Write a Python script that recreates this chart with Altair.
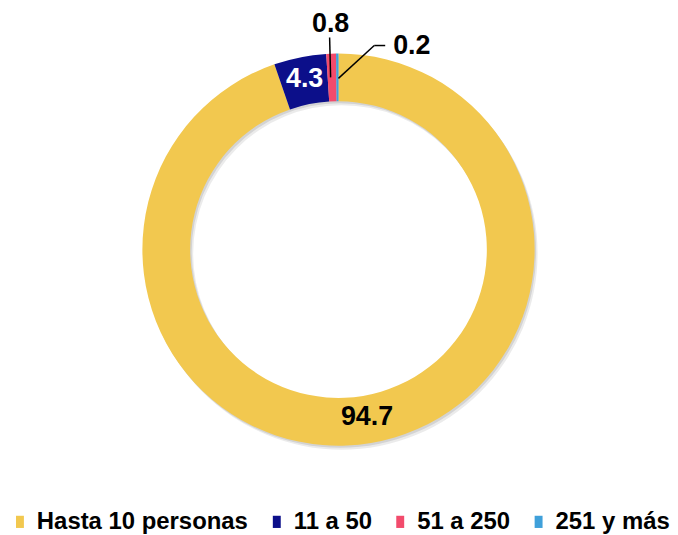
import altair as alt
import pandas as pd
import numpy as np

categories = ["Hasta 10 personas", "11 a 50", "51 a 250", "251 y más"]
values = [94.7, 4.3, 0.8, 0.2]
labels = ["94.7", "4.3", "0.8", "0.2"]
colors = ["#F2C84F", "#0C0F8A", "#F24B6C", "#3FA0DA"]

W, H = 664, 471
R_OUT, R_IN = 197, 149
R_MID = (R_OUT + R_IN) / 2

df = pd.DataFrame({"cat": categories, "value": values, "label": labels,
                   "idx": list(range(len(categories)))})
total = df["value"].sum()
df["start"] = df["value"].cumsum() - df["value"]
df["mid"] = (df["start"] + df["value"] / 2) / total * 2 * np.pi
df["mx"] = R_MID * np.sin(df["mid"])
df["my"] = R_MID * np.cos(df["mid"])

# label placement (annotation layout)
lab_rows = []
seg_rows = []
for _, r in df.iterrows():
    if r["value"] >= 2:
        lab_rows.append(dict(label=r["label"], x=r["mx"], y=r["my"] + 2, col="white" if r["idx"] == 1 else "black", align="center"))
    elif r["idx"] == 2:
        x0 = R_OUT * np.sin(r["mid"]) - 0.5
        lab_rows.append(dict(label=r["label"], x=x0, y=R_OUT + 30, col="black", align="center"))
        seg_rows.append(dict(x=x0, y=R_MID, x2=x0 - 1, y2=R_OUT + 16))
    else:
        x0 = r["mx"]
        lab_rows.append(dict(label=r["label"], x=x0 + 56, y=R_OUT + 7, col="black", align="left"))
        seg_rows.append(dict(x=x0 + 1, y=R_MID - 1, x2=x0 + 37, y2=R_OUT + 8))
        seg_rows.append(dict(x=x0 + 37, y=R_OUT + 8, x2=x0 + 48, y2=R_OUT + 8))
labs = pd.DataFrame(lab_rows)
segs = pd.DataFrame(seg_rows)

xs = alt.Scale(domain=[-W / 2, W / 2], range=[0, W])
ys = alt.Scale(domain=[-H / 2, H / 2])

ring_df = pd.DataFrame({"v": [1]})
shadow1 = alt.Chart(ring_df).mark_arc(innerRadius=R_IN, outerRadius=R_OUT, color="#000000",
                                      opacity=0.08, xOffset=3, yOffset=4).encode(theta=alt.Theta("v:Q"))
shadow2 = alt.Chart(ring_df).mark_arc(innerRadius=R_IN, outerRadius=R_OUT, color="#000000",
                                      opacity=0.1, xOffset=1.5, yOffset=2).encode(theta=alt.Theta("v:Q"))

arcs = alt.Chart(df).mark_arc(innerRadius=R_IN, outerRadius=R_OUT).encode(
    theta=alt.Theta("value:Q", stack=True),
    order=alt.Order("idx:Q"),
    color=alt.Color("cat:N", scale=alt.Scale(domain=categories, range=colors),
                    sort=categories,
                    legend=alt.Legend(title=None, orient="none", direction="horizontal",
                                      legendX=0, legendY=497, padding=0,
                                      symbolType="M-0.65,-1H0.65V1H-0.65Z",
                                      symbolSize=150, symbolStrokeWidth=0,
                                      labelFont="Liberation Sans", labelFontWeight="bold",
                                      labelFontSize=24, labelColor="#000000",
                                      labelOffset=5, columnPadding=16, labelLimit=400)),
)

rules = alt.Chart(segs).mark_rule(color="#000000", strokeWidth=1.5).encode(
    x=alt.X("x:Q", scale=xs, axis=None), y=alt.Y("y:Q", scale=ys, axis=None),
    x2="x2:Q", y2="y2:Q")


def text_layer(align):
    return alt.Chart(labs).transform_filter(alt.datum.align == align).mark_text(
        font="Liberation Sans", fontWeight="bold", fontSize=27, baseline="middle", align=align
    ).encode(
        x=alt.X("x:Q", scale=xs, axis=None), y=alt.Y("y:Q", scale=ys, axis=None),
        text="label:N",
        color=alt.Color("col:N", scale=None),
    )


chart = alt.layer(shadow1, shadow2, arcs, rules, text_layer("center"), text_layer("left")).properties(
    width=W, height=H, padding=0
).configure_view(stroke=None).resolve_scale(theta="independent")

chart.save("out.html", embed_options={"renderer": "svg", "actions": False})
